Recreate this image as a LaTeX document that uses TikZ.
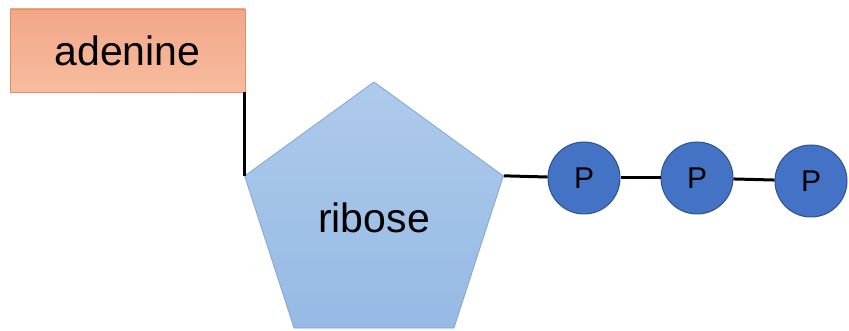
\documentclass[tikz,border=0pt]{standalone}
\usepackage{fontspec}
\setmainfont{Liberation Sans}
\usetikzlibrary{shapes.geometric}
\definecolor{adfillT}{RGB}{242,166,136}
\definecolor{adfillB}{RGB}{247,188,158}
\definecolor{adedge}{RGB}{232,140,100}
\definecolor{ribT}{RGB}{174,202,236}
\definecolor{ribB}{RGB}{150,186,228}
\definecolor{ribedge}{RGB}{130,165,210}
\definecolor{pfill}{RGB}{68,114,196}
\definecolor{pedge}{RGB}{47,82,143}
\tikzset{
  base/.style={rectangle, draw=adedge, line width=0.8pt, top color=adfillT, bottom color=adfillB,
    minimum width=235pt, minimum height=83pt, inner sep=0pt, font=\fontsize{41}{45}\selectfont},
  sugar/.style={regular polygon, regular polygon sides=5, draw=ribedge, line width=0.8pt,
    top color=ribT, bottom color=ribB, minimum size=272pt, inner sep=0pt},
  phos/.style={circle, draw=pedge, line width=1pt, fill=pfill, minimum size=72pt, inner sep=0pt,
    font=\fontsize{30}{34}\selectfont},
  bond/.style={line width=3pt, black}
}
\begin{document}
\begin{tikzpicture}[x=1pt,y=-1pt]
\useasboundingbox (0,0) rectangle (849,331);
\node[base] (adenine) at (127.5,50.5) {adenine};
\node[sugar] (ribose) at (374,218) {};
\node[font=\fontsize{41}{45}\selectfont] (ribtext) at (374,218) {ribose};
\node[phos] (p1) at (584,178) {P};
\node[phos] (p2) at (697,178) {P};
\node[phos] (p3) at (811,181) {P};
\coordinate (adjoint) at (adenine.south east -| ribose.corner 2);
\draw[bond] (adjoint) -- (ribose.corner 2);
\draw[bond] (ribose.corner 5) -- (p1);
\draw[bond] (p1) -- (p2);
\draw[bond] (p2) -- (p3);
\end{tikzpicture}
\end{document}
